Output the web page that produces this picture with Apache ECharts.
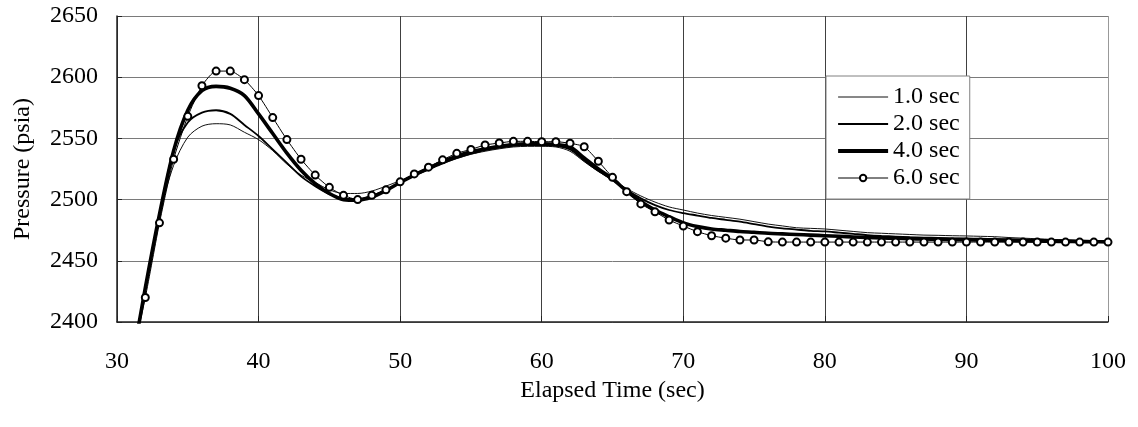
<!DOCTYPE html>
<html>
<head>
<meta charset="utf-8">
<script src="https://cdn.jsdelivr.net/npm/echarts@6/dist/echarts.min.js"></script>
<style>html,body{margin:0;padding:0;background:#fff;}#c{width:1138px;height:427px;}</style>
</head>
<body>
<div id="c"></div>
<script>
const time = [31,32,33,34,35,36,37,38,39,40,41,42,43,44,45,46,47,48,49,50,
  51,52,53,54,55,56,57,58,59,60,61,62,63,64,65,66,67,68,69,70,
  71,72,73,74,75,76,77,78,79,80,81,82,83,84,85,86,87,88,89,90,
  91,92,93,94,95,96,97,98,99,100];

const sec1 = [2362,2428,2487,2528,2551,2560,2562,2561,2555,2549,
  2540,2529,2520,2514,2508,2505,2505,2507,2511,2515.5,
  2520,2525,2529.5,2533.5,2537,2539.5,2541.5,2543,2543.5,2543.5,
  2543,2539.5,2531,2523,2516,2509,2503,2498,2494,2491.5,
  2489,2487,2485.5,2484,2482,2480,2478.5,2477,2476.5,2476,
  2475,2474,2473,2472.5,2472,2471.5,2471,2470.8,2470.5,2470.3,
  2470,2469.7,2469,2468.5,2468,2467.5,2467,2466.5,2466.2,2466];

const sec2 = [2362,2428,2488,2540,2563,2571,2573,2570,2561,2552,
  2541,2530,2519,2511,2504.5,2501,2500.5,2503,2508,2514,
  2519.5,2524.5,2529.5,2534,2537.5,2540.5,2542.5,2544,2544.5,2544.5,
  2544,2541,2532,2523.5,2516,2508,2501,2495.5,2491.5,2489,
  2487,2485,2483.5,2482,2480,2478,2476.5,2475.5,2474.5,2474,
  2473,2472,2471,2470.3,2469.8,2469.3,2469,2468.7,2468.4,2468.2,
  2468,2467.8,2467.6,2467.4,2467.2,2467,2466.8,2466.5,2466.2,2466];

const sec4 = [2362,2428,2488,2540,2573,2589,2592.5,2591,2585,2570,
  2554,2538,2524,2513,2505,2500,2499.5,2502,2507.5,2514,
  2520,2525.5,2531,2535.5,2539,2541.5,2543.5,2545,2545.5,2545.5,
  2545,2543,2534,2525,2517,2507,2498.5,2491.5,2486,2481,
  2478,2476,2475,2474,2473.3,2472.5,2472,2471.5,2471,2470.5,
  2470,2469.5,2469,2468.7,2468.4,2468.1,2467.8,2467.6,2467.4,2467.2,
  2467,2466.8,2466.6,2466.4,2466.2,2466,2465.8,2465.7,2465.6,2465.5];

const sec6 = [2367,2420,2481,2533,2568,2593,2605,2605,2598,2585,
  2567,2549,2533,2520,2510,2503.5,2500,2503.5,2508,2514.5,
  2521,2526.5,2532.5,2537.8,2541,2544.6,2546.2,2547.6,2547.6,2547.3,
  2547.3,2546,2543.2,2531.3,2518.2,2506.5,2496.5,2490,2483.3,2478.4,
  2473.8,2470.5,2468.5,2467,2467,2465.5,2465.3,2465.3,2465.3,2465.3,
  2465.3,2465.3,2465.3,2465.3,2465.3,2465.3,2465.3,2465.3,2465.3,2465.3,
  2465.3,2465.3,2465.3,2465.3,2465.3,2465.3,2465.3,2465.3,2465.3,2465.3];

const seriesNames = ['1.0 sec', '2.0 sec', '4.0 sec', '6.0 sec'];

const FONT = "'Liberation Serif', 'Times New Roman', serif";
const pairs = arr => time.map((t, i) => [t, arr[i]]);
const W1 = 1, W2 = 1.8, W4 = 3.6, W6 = 1;

const chart = echarts.init(document.getElementById('c'), null, {renderer: 'canvas'});
chart.setOption({
  animation: false,
  backgroundColor: '#fff',
  color: ['#000'],
  textStyle: {fontFamily: FONT, color: '#000'},
  grid: {left: 117, right: 30, top: 16, bottom: 105, containLabel: false},
  xAxis: {
    type: 'value', min: 30, max: 100, interval: 10,
    name: 'Elapsed Time (sec)', nameLocation: 'middle', nameGap: 51,
    nameTextStyle: {fontSize: 24, fontFamily: FONT, color: '#000'},
    axisLine: {lineStyle: {color: '#222', width: 1.5}},
    axisTick: {inside: true, length: 6, lineStyle: {color: '#222'}},
    axisLabel: {margin: 28, fontSize: 24, fontFamily: FONT, color: '#000'},
    splitLine: {show: true, lineStyle: {color: ['#404040','#404040','#404040','#404040','#404040','#404040','#404040','#999'], width: 1}}
  },
  yAxis: {
    type: 'value', min: 2400, max: 2650, interval: 50,
    name: 'Pressure (psia)', nameLocation: 'middle', nameGap: 82,
    nameTextStyle: {fontSize: 24, fontFamily: FONT, color: '#000'},
    axisLine: {show: true, lineStyle: {color: '#222', width: 1.5}},
    axisTick: {show: true, inside: true, length: 5, lineStyle: {color: '#222'}},
    axisLabel: {margin: 19, fontSize: 24, fontFamily: FONT, color: '#000',
      formatter: v => String(v)},
    splitLine: {show: true, lineStyle: {color: '#7a7a7a', width: 1}}
  },
  legend: {
    orient: 'vertical', left: 826, top: 76,
    padding: [9, 10, 9, 10],
    itemWidth: 50, itemHeight: 8, itemGap: 3,
    backgroundColor: '#fff', borderColor: '#808080', borderWidth: 1,
    textStyle: {fontSize: 24, lineHeight: 24, fontFamily: FONT, color: '#000'},
    data: [
      {name: seriesNames[0], itemStyle: {opacity: 0}, lineStyle: {width: W1, color: '#111'}},
      {name: seriesNames[1], itemStyle: {opacity: 0}, lineStyle: {width: W2, color: '#000'}},
      {name: seriesNames[2], itemStyle: {opacity: 0}, lineStyle: {width: W4 + 0.6, color: '#000'}},
      {name: seriesNames[3], lineStyle: {width: W6, color: '#000'}}
    ]
  },
  series: [
    {name: seriesNames[0], type: 'line', data: pairs(sec1), symbol: 'none', smooth: 0.3,
     lineStyle: {color: '#111', width: W1}, z: 2},
    {name: seriesNames[1], type: 'line', data: pairs(sec2), symbol: 'none', smooth: 0.3,
     lineStyle: {color: '#000', width: W2}, z: 3},
    {name: seriesNames[2], type: 'line', data: pairs(sec4), symbol: 'none', smooth: 0.3,
     lineStyle: {color: '#000', width: W4}, z: 4},
    {name: seriesNames[3], type: 'line', data: pairs(sec6), symbol: 'emptyCircle', symbolSize: 7,
     showSymbol: true, smooth: 0.2,
     itemStyle: {color: '#000', borderWidth: 1.5},
     lineStyle: {color: '#000', width: W6}, z: 5}
  ]
});
</script>
</body>
</html>
